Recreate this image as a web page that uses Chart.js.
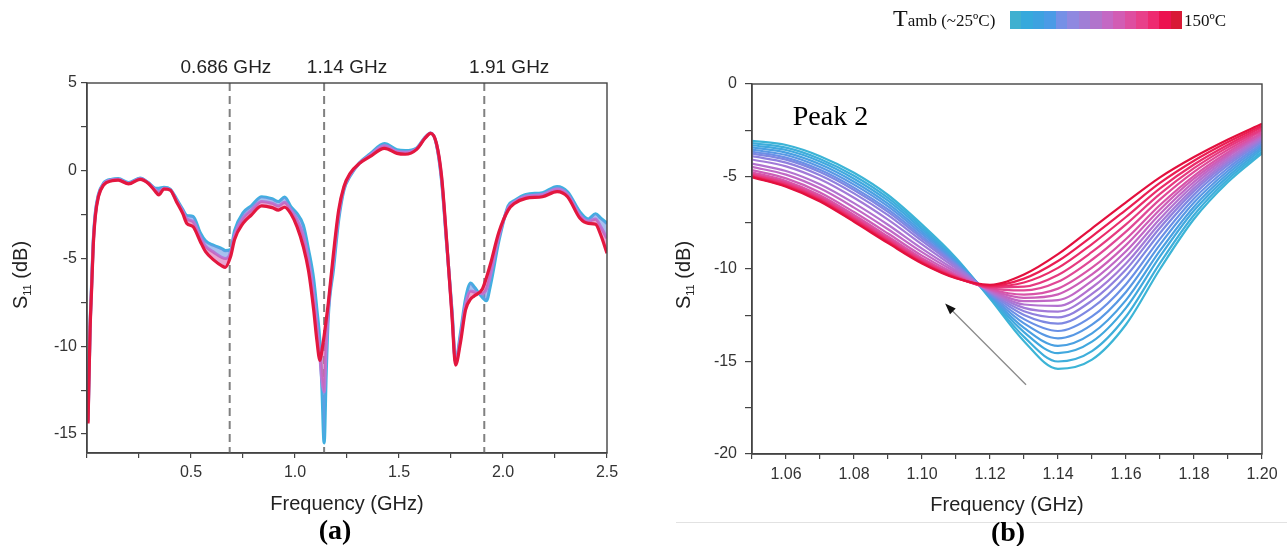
<!DOCTYPE html>
<html>
<head>
<meta charset="utf-8">
<script src="https://cdn.jsdelivr.net/npm/chart.js@4.4.1/dist/chart.umd.min.js"></script>
<style>
  body { margin: 0; background: #fff; }
  #wrap { position: relative; width: 1287px; height: 546px; overflow: hidden; background: #fff; }
  canvas { position: absolute; top: 0; }
  #chartA { left: 0; }
  #chartB { left: 660px; }
  .cap { position: absolute; width: 100px; text-align: center; line-height: 1;
         font-family: "Liberation Serif", "Times New Roman", serif; font-weight: bold; font-size: 28px; color: #000; }
  #legend { position: absolute; left: 893px; top: 6px; display: flex; align-items: baseline; line-height: 1;
            font-family: "Liberation Serif", "Times New Roman", serif; color: #111; white-space: nowrap; }
  #bar { position: absolute; left: 1010px; top: 11px; width: 172px; height: 18px; display: flex; }
  #bar span { flex: 1; }
  #hot { position: absolute; left: 1184px; top: 12px; line-height: 1; font-size: 17px;
         font-family: "Liberation Serif", "Times New Roman", serif; color: #111; }
  #rule { position: absolute; left: 676px; top: 522px; width: 611px; height: 1px; background: #e2e2e2; }
</style>
</head>
<body>
<div id="wrap">
  <canvas id="chartA" width="640" height="546"></canvas>
  <canvas id="chartB" width="627" height="546"></canvas>
  <div id="legend"><span style="font-size:24px">T</span><span style="font-size:17px">amb (~25ºC)</span></div>
  <div id="bar"></div>
  <div id="hot">150ºC</div>
  <div id="rule"></div>
  <div class="cap" style="left:285px; top:516px">(a)</div>
  <div class="cap" style="left:958px; top:518px">(b)</div>
</div>
<script>
// ---- panel (a): wide band S11 ----
var freqA = [0.005, 0.015, 0.022, 0.03, 0.04, 0.055, 0.08, 0.12, 0.15, 0.2,
  0.255, 0.295, 0.33, 0.345, 0.37, 0.4, 0.43, 0.46, 0.48, 0.51,
  0.545, 0.57, 0.61, 0.65, 0.665, 0.69, 0.71, 0.75, 0.79, 0.84,
  0.89, 0.92, 0.95, 0.98, 1.01, 1.04, 1.065, 1.09, 1.105, 1.12,
  1.13, 1.14, 1.15, 1.16, 1.185, 1.21, 1.235, 1.265, 1.31, 1.36, 1.43,
  1.49, 1.53, 1.585, 1.625, 1.652, 1.68, 1.705, 1.73, 1.755, 1.772,
  1.795, 1.82, 1.845, 1.86, 1.9, 1.92, 1.94, 1.98, 2.025, 2.055,
  2.11, 2.19, 2.26, 2.31, 2.37, 2.41, 2.445, 2.47, 2.5];

var s11Cold = [-14.2, -8.8, -6.5, -4.0, -2.4, -1.35, -0.7, -0.48, -0.45, -0.68,
  -0.42, -0.68, -1.0, -1.0, -0.95, -1.05, -1.6, -2.2, -2.55, -2.6,
  -3.55, -4.0, -4.25, -4.45, -4.55, -4.5, -3.4, -2.4, -2.0, -1.48,
  -1.6, -1.75, -1.5, -2.05, -2.45, -3.1, -4.5, -6.2, -7.9, -9.8,
  -12.5, -15.5, -11.5, -8.3, -5.6, -2.8, -1.1, -0.3, 0.45, 0.95, 1.55,
  1.2, 1.15, 1.3, 1.9, 2.15, 1.5, -0.6, -4.3, -8.0, -10.9,
  -9.3, -7.3, -6.4, -6.6, -7.2, -7.4, -6.5, -4.0, -2.0, -1.7,
  -1.35, -1.25, -0.9, -1.2, -2.35, -2.75, -2.45, -2.7, -3.0];

var s11Mid = [-14.3, -8.9, -6.65, -4.15, -2.5, -1.42, -0.75, -0.52, -0.49, -0.72,
  -0.45, -0.7, -1.1, -1.2, -1.0, -1.08, -1.68, -2.3, -2.75, -2.9,
  -3.8, -4.3, -4.65, -4.95, -5.0, -4.7, -3.65, -2.7, -2.25, -1.75,
  -1.85, -2.0, -1.8, -2.25, -2.8, -3.7, -5.1, -7.1, -8.8, -10.6,
  -12.0, -12.6, -10.0, -7.9, -5.1, -2.5, -1.0, -0.22, 0.43, 0.88, 1.42,
  1.1, 1.05, 1.26, 1.87, 2.14, 1.53, -0.47, -4.2, -8.15, -10.9,
  -9.55, -7.6, -6.85, -6.9, -7.0, -6.75, -5.9, -3.75, -2.12, -1.78,
  -1.46, -1.36, -1.05, -1.34, -2.53, -2.88, -2.75, -3.2, -3.85];

var s11Hot = [-14.4, -9.0, -6.8, -4.3, -2.6, -1.48, -0.81, -0.57, -0.53, -0.75,
  -0.49, -0.72, -1.2, -1.38, -1.04, -1.1, -1.76, -2.43, -3.0, -3.19,
  -4.04, -4.61, -5.09, -5.43, -5.5, -4.9, -3.9, -3.0, -2.52, -2.0,
  -2.1, -2.24, -2.08, -2.45, -3.2, -4.33, -5.7, -7.95, -9.65, -10.8,
  -10.2, -9.4, -8.5, -7.55, -4.7, -2.24, -0.91, -0.15, 0.42, 0.8, 1.28,
  0.99, 0.94, 1.22, 1.85, 2.13, 1.56, -0.34, -4.13, -8.32, -11.07,
  -9.83, -7.93, -7.3, -7.15, -6.75, -6.1, -5.3, -3.5, -2.24, -1.86,
  -1.57, -1.48, -1.19, -1.48, -2.71, -3.0, -3.05, -3.66, -4.7];

var colorsA = ['#3fb0e0', '#b878d6', '#e3173f'];
var bandFillA = ['rgba(0,0,0,0)', 'rgba(110,150,228,0.6)', 'rgba(214,92,172,0.55)'];

var xTicksA = [0, 0.25, 0.5, 0.75, 1.0, 1.25, 1.5, 1.75, 2.0, 2.25, 2.5];
var xLabelsA = ['', '', '0.5', '', '1.0', '', '1.5', '', '2.0', '', '2.5'];
var yTicksA = [-15, -12.5, -10, -7.5, -5, -2.5, 0, 2.5, 5];
var yLabelsA = ['-15', '', '-10', '', '-5', '', '0', '', '5'];

var markerFreqs = [0.686, 1.14, 1.91];
var markerLabels = ['0.686 GHz', '1.14 GHz', '1.91 GHz'];
var markerLabelAt = [0.668, 1.25, 2.03];

// ---- panel (b): Peak 2 zoom, coldest -> hottest ----
var freqB = [1.05, 1.06, 1.07, 1.08, 1.09, 1.10, 1.11, 1.12, 1.13, 1.14, 1.15, 1.16, 1.17, 1.18, 1.19, 1.20];
var peakCurves = [
  [-3.07, -3.30, -3.90, -4.80, -6.00, -7.60, -9.40, -11.60, -13.90, -15.40, -14.90, -13.00, -10.00, -7.30, -5.30, -3.75],
  [-3.19, -3.44, -4.05, -4.96, -6.16, -7.73, -9.47, -11.55, -13.67, -15.00, -14.44, -12.57, -9.68, -7.08, -5.15, -3.65],
  [-3.31, -3.57, -4.19, -5.12, -6.31, -7.85, -9.53, -11.50, -13.41, -14.55, -13.93, -12.10, -9.32, -6.84, -4.99, -3.53],
  [-3.43, -3.71, -4.34, -5.28, -6.47, -7.98, -9.60, -11.45, -13.18, -14.16, -13.48, -11.68, -9.01, -6.63, -4.84, -3.43],
  [-3.55, -3.84, -4.49, -5.44, -6.62, -8.10, -9.66, -11.40, -12.94, -13.75, -13.01, -11.24, -8.68, -6.41, -4.69, -3.32],
  [-3.66, -3.98, -4.64, -5.60, -6.78, -8.23, -9.73, -11.35, -12.71, -13.35, -12.56, -10.82, -8.37, -6.19, -4.54, -3.22],
  [-3.76, -4.09, -4.76, -5.73, -6.91, -8.34, -9.79, -11.30, -12.48, -12.95, -12.10, -10.39, -8.05, -5.98, -4.39, -3.12],
  [-3.90, -4.25, -4.93, -5.91, -7.09, -8.48, -9.86, -11.26, -12.28, -12.61, -11.71, -10.03, -7.77, -5.79, -4.27, -3.03],
  [-4.08, -4.45, -5.15, -6.15, -7.33, -8.67, -9.96, -11.23, -12.10, -12.30, -11.35, -9.70, -7.53, -5.63, -4.15, -2.95],
  [-4.30, -4.70, -5.42, -6.44, -7.61, -8.90, -10.08, -11.19, -11.92, -11.99, -11.00, -9.37, -7.28, -5.46, -4.04, -2.87],
  [-4.48, -4.90, -5.64, -6.68, -7.85, -9.09, -10.18, -11.15, -11.74, -11.68, -10.64, -9.04, -7.03, -5.29, -3.92, -2.79],
  [-4.65, -5.10, -5.86, -6.92, -8.08, -9.28, -10.28, -11.11, -11.56, -11.37, -10.29, -8.71, -6.78, -5.12, -3.81, -2.71],
  [-4.77, -5.24, -6.01, -7.08, -8.24, -9.41, -10.35, -11.08, -11.38, -11.06, -9.93, -8.38, -6.54, -4.96, -3.69, -2.63],
  [-4.85, -5.33, -6.11, -7.19, -8.34, -9.49, -10.39, -11.03, -11.16, -10.69, -9.50, -7.98, -6.24, -4.75, -3.55, -2.53],
  [-4.91, -5.39, -6.18, -7.27, -8.42, -9.55, -10.42, -10.99, -10.95, -10.32, -9.08, -7.59, -5.94, -4.55, -3.41, -2.44],
  [-4.97, -5.46, -6.25, -7.34, -8.50, -9.62, -10.46, -10.94, -10.73, -9.94, -8.65, -7.19, -5.64, -4.35, -3.28, -2.34],
  [-5.01, -5.51, -6.30, -7.40, -8.55, -9.66, -10.48, -10.90, -10.52, -9.57, -8.23, -6.80, -5.35, -4.15, -3.14, -2.25],
  [-5.05, -5.55, -6.35, -7.45, -8.60, -9.70, -10.50, -10.85, -10.30, -9.20, -7.80, -6.40, -5.05, -3.95, -3.00, -2.15]
];
var colorsB = ['#3cb4d6', '#3eaedb', '#41a8de', '#4aa0e2', '#5898e4', '#6a90e6', '#7e88e2', '#9080de', '#a27ad8',
  '#b272d0', '#c068c6', '#cc5eb8', '#d854a8', '#e04896', '#e63a80', '#ea2c6a', '#ea1e54', '#e3103e'];

var xTicksB = [1.05, 1.06, 1.07, 1.08, 1.09, 1.10, 1.11, 1.12, 1.13, 1.14, 1.15, 1.16, 1.17, 1.18, 1.19, 1.20];
var xLabelsB = ['', '1.06', '', '1.08', '', '1.10', '', '1.12', '', '1.14', '', '1.16', '', '1.18', '', '1.20'];
var yTicksB = [-20, -17.5, -15, -12.5, -10, -7.5, -5, -2.5, 0];
var yLabelsB = ['-20', '', '-15', '', '-10', '', '-5', '', '0'];

var arrowTail = [1.1306, -16.26];
var arrowHead = [1.1068, -11.87];
var peakText = [1.062, -1.8];

var legendColors = ['#3fb0d0', '#36a9dc', '#3da2e0', '#4b9be6', '#7590e6', '#8f88e0', '#a07ed6', '#b174cc',
  '#c468c4', '#d25cb4', '#de4ea0', '#e8408a', '#ee2a70', '#ec1250', '#d81a36'];

var sans = '"Liberation Sans", Arial, sans-serif';
Chart.defaults.font.family = sans;

legendColors.forEach(function (c) {
  var s = document.createElement('span');
  s.style.background = c;
  document.getElementById('bar').appendChild(s);
});

function drawFrame(chart) {
  var ctx = chart.ctx, a = chart.chartArea;
  ctx.save();
  ctx.strokeStyle = '#444';
  ctx.lineWidth = 1.4;
  ctx.strokeRect(a.left, a.top, a.right - a.left, a.bottom - a.top);
  ctx.restore();
}

function drawYTitle(ctx, x, y) {
  ctx.save();
  ctx.translate(x, y);
  ctx.rotate(-Math.PI / 2);
  ctx.fillStyle = '#222';
  ctx.textBaseline = 'alphabetic';
  ctx.font = '20px ' + sans;
  var w1 = ctx.measureText('S').width;
  var w3 = ctx.measureText(' (dB)').width;
  ctx.font = '11px ' + sans;
  var w2 = ctx.measureText('11').width;
  var cx = -(w1 + w2 + w3) / 2;
  ctx.font = '20px ' + sans;
  ctx.fillText('S', cx, 7);
  ctx.font = '11px ' + sans;
  ctx.fillText('11', cx + w1, 11);
  ctx.font = '20px ' + sans;
  ctx.fillText(' (dB)', cx + w1 + w2, 7);
  ctx.restore();
}

function axisStyle(ticks, labels, min, max, fitW, fitH, tickLen, pad) {
  return {
    type: 'linear', min: min, max: max,
    afterBuildTicks: function (s) { s.ticks = ticks.map(function (v) { return { value: v }; }); },
    afterFit: function (s) { if (fitW) s.width = fitW; if (fitH) s.height = fitH; },
    ticks: {
      autoSkip: false, maxRotation: 0, padding: pad, color: '#333',
      font: { size: 16, family: sans },
      callback: function (v, i) { return labels[i]; }
    },
    grid: { drawOnChartArea: false, drawTicks: true, tickLength: tickLen, color: '#444', lineWidth: 1.2 },
    border: { display: true, color: '#444', width: 1.4 }
  };
}

// panel (a)
var xA = axisStyle(xTicksA, xLabelsA, 0, 2.5, 0, 93, 5, 5);
xA.title = { display: true, text: 'Frequency (GHz)', color: '#222', font: { size: 20, family: sans }, padding: { top: 0, bottom: 30 } };
var yA = axisStyle(yTicksA, yLabelsA, -16.08, 5, 87, 0, 6, 4);

var pluginA = {
  id: 'markersA',
  beforeDatasetsDraw: function (chart) {
    var ctx = chart.ctx, a = chart.chartArea, x = chart.scales.x;
    ctx.save();
    ctx.strokeStyle = '#808080';
    ctx.lineWidth = 2;
    ctx.setLineDash([8, 5]);
    markerFreqs.forEach(function (f) {
      var px = x.getPixelForValue(f);
      ctx.beginPath(); ctx.moveTo(px, a.top); ctx.lineTo(px, a.bottom); ctx.stroke();
    });
    ctx.restore();
  },
  afterDraw: function (chart) {
    var ctx = chart.ctx, a = chart.chartArea, x = chart.scales.x;
    ctx.save();
    ctx.fillStyle = '#222';
    ctx.font = '19px ' + sans;
    ctx.textAlign = 'center';
    ctx.textBaseline = 'middle';
    markerLabels.forEach(function (t, i) { ctx.fillText(t, x.getPixelForValue(markerLabelAt[i]), a.top - 15); });
    ctx.restore();
    drawFrame(chart);
    drawYTitle(ctx, 20, 275);
  }
};

var seriesA = [s11Cold, s11Mid, s11Hot];
new Chart('chartA', {
  type: 'line',
  data: {
    datasets: seriesA.map(function (ys, k) {
      return {
        data: ys.map(function (v, i) { return { x: freqA[i], y: v }; }),
        borderColor: colorsA[k], borderWidth: 3.2, pointRadius: 0,
        backgroundColor: bandFillA[k], fill: k === 0 ? false : k - 1,
        cubicInterpolationMode: 'monotone', order: 3 - k
      };
    })
  },
  options: {
    responsive: false, animation: false,
    layout: { padding: { left: 0, top: 83, right: 33, bottom: 0 } },
    plugins: { legend: { display: false }, tooltip: { enabled: false }, filler: { propagate: false } },
    scales: { x: xA, y: yA }
  },
  plugins: [pluginA]
});

// panel (b)
var xB = axisStyle(xTicksB, xLabelsB, 1.05, 1.20, 0, 92, 5, 6);
xB.title = { display: true, text: 'Frequency (GHz)', color: '#222', font: { size: 20, family: sans }, padding: { top: 0, bottom: 29 } };
var yB = axisStyle(yTicksB, yLabelsB, -20, 0, 92, 0, 7, 8);

var pluginB = {
  id: 'peakB',
  afterDraw: function (chart) {
    var ctx = chart.ctx, x = chart.scales.x, y = chart.scales.y;
    var tx = x.getPixelForValue(arrowTail[0]), ty = y.getPixelForValue(arrowTail[1]);
    var hx = x.getPixelForValue(arrowHead[0]), hy = y.getPixelForValue(arrowHead[1]);
    var ang = Math.atan2(hy - ty, hx - tx);
    ctx.save();
    ctx.strokeStyle = '#8a8a8a';
    ctx.lineWidth = 1.3;
    ctx.beginPath(); ctx.moveTo(tx, ty); ctx.lineTo(hx - 8 * Math.cos(ang), hy - 8 * Math.sin(ang)); ctx.stroke();
    ctx.fillStyle = '#111';
    ctx.beginPath();
    ctx.moveTo(hx, hy);
    ctx.lineTo(hx - 11 * Math.cos(ang) + 4 * Math.sin(ang), hy - 11 * Math.sin(ang) - 4 * Math.cos(ang));
    ctx.lineTo(hx - 11 * Math.cos(ang) - 4 * Math.sin(ang), hy - 11 * Math.sin(ang) + 4 * Math.cos(ang));
    ctx.closePath(); ctx.fill();
    ctx.fillStyle = '#000';
    ctx.font = '28px "Liberation Serif", "Times New Roman", serif';
    ctx.textAlign = 'left';
    ctx.textBaseline = 'middle';
    ctx.fillText('Peak 2', x.getPixelForValue(peakText[0]), y.getPixelForValue(peakText[1]));
    ctx.restore();
    drawFrame(chart);
    drawYTitle(ctx, 23, 275);
  }
};

new Chart('chartB', {
  type: 'line',
  data: {
    datasets: peakCurves.map(function (ys, k) {
      return {
        data: ys.map(function (v, i) { return { x: freqB[i], y: v }; }),
        borderColor: colorsB[k], borderWidth: 2.2, pointRadius: 0,
        cubicInterpolationMode: 'monotone', order: peakCurves.length - k
      };
    })
  },
  options: {
    responsive: false, animation: false,
    layout: { padding: { left: 0, top: 84, right: 25, bottom: 0 } },
    plugins: { legend: { display: false }, tooltip: { enabled: false } },
    scales: { x: xB, y: yB }
  },
  plugins: [pluginB]
});
</script>
</body>
</html>
